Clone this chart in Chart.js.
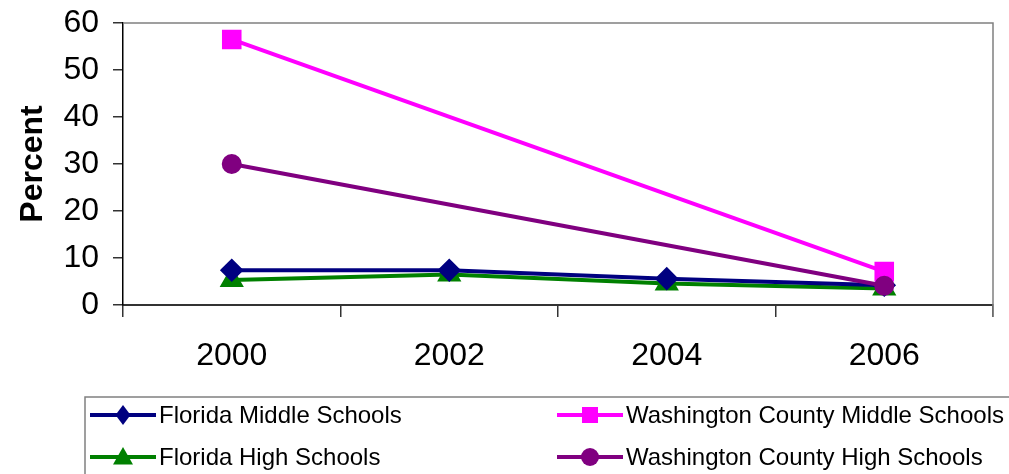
<!DOCTYPE html>
<html>
<head>
<meta charset="UTF-8" />
<script src="https://cdn.jsdelivr.net/npm/chart.js@4.4.1/dist/chart.umd.min.js"></script>
<style>
  html, body { margin: 0; padding: 0; background: #fff; }
</style>
</head>
<body>
<canvas id="myChart" width="1009" height="474"></canvas>
<script>
// data
const years = ["2000", "2002", "2004", "2006"];
const flMiddle = [7.4, 7.4, 5.6, 4.2];
const wcMiddle = [56.5, null, null, 7.1];
const flHigh = [5.3, 6.5, 4.6, 3.5];
const wcHigh = [30, null, null, 4.1];
const yMin = 0, yMax = 60, yStep = 10;

const FONT = "'Liberation Sans', Arial, sans-serif";

// marker drawing for the hand-made legend
function marker(ctx, style, x, y, r, color) {
  ctx.fillStyle = color;
  ctx.beginPath();
  if (style === "rectRot") {
    ctx.moveTo(x, y - r); ctx.lineTo(x + r * 0.75, y); ctx.lineTo(x, y + r); ctx.lineTo(x - r * 0.75, y);
  } else if (style === "rect") {
    ctx.rect(x - r * 0.8, y - r * 0.8, r * 1.6, r * 1.6);
  } else if (style === "triangle") {
    ctx.moveTo(x, y - r); ctx.lineTo(x + r, y + r * 0.75); ctx.lineTo(x - r, y + r * 0.75);
  } else {
    ctx.arc(x, y, r * 0.9, 0, Math.PI * 2);
  }
  ctx.closePath();
  ctx.fill();
}

const frame = {
  id: "frame",
  beforeDatasetsDraw(chart) {
    const a = chart.chartArea, ctx = chart.ctx;
    ctx.save();
    ctx.strokeStyle = "#808080";
    ctx.lineWidth = 1.5;
    ctx.beginPath();
    ctx.moveTo(a.left, a.top); ctx.lineTo(a.right, a.top); ctx.lineTo(a.right, a.bottom + 12);
    ctx.stroke();
    ctx.restore();
  }
};

const legendBox = {
  id: "legendBox",
  afterDraw(chart) {
    const ctx = chart.ctx;
    ctx.save();
    ctx.strokeStyle = "#808080";
    ctx.lineWidth = 1.5;
    ctx.strokeRect(85, 397, 1000, 100);
    const cols = [90, 557], rows = [415, 457];
    ctx.font = "24px " + FONT;
    ctx.textBaseline = "middle";
    chart.data.datasets.forEach(function(ds, i) {
      const x = cols[i % 2], y = rows[Math.floor(i / 2)];
      ctx.strokeStyle = ds.borderColor;
      ctx.lineWidth = 4;
      ctx.beginPath(); ctx.moveTo(x, y); ctx.lineTo(x + 66, y); ctx.stroke();
      marker(ctx, ds.pointStyle, x + 33, y, 10, ds.borderColor);
      ctx.fillStyle = "#000";
      ctx.fillText(ds.label, x + 69, y + 1);
    });
    ctx.restore();
  }
};

const data = {
  labels: years,
  datasets: [
    { label: "Florida Middle Schools", data: flMiddle, borderColor: "#000080", backgroundColor: "#000080",
      pointStyle: "rectRot", pointRadius: 9, borderWidth: 4, order: 2 },
    { label: "Washington County Middle Schools", data: wcMiddle, borderColor: "#FF00FF", backgroundColor: "#FF00FF",
      pointStyle: "rect", pointRadius: 11, borderWidth: 4, spanGaps: true, order: 1 },
    { label: "Florida High Schools", data: flHigh, borderColor: "#008000", backgroundColor: "#008000",
      pointStyle: "triangle", pointRadius: 10, borderWidth: 4, order: 3 },
    { label: "Washington County High Schools", data: wcHigh, borderColor: "#800080", backgroundColor: "#800080",
      pointStyle: "circle", pointRadius: 8, borderWidth: 4, spanGaps: true, order: 0 }
  ]
};

const config = {
  type: "line",
  data: data,
  plugins: [frame, legendBox],
  options: {
    responsive: false,
    animation: false,
    devicePixelRatio: 1,
    layout: { padding: { top: 23, right: 16, left: 14, bottom: 0 } },
    elements: { line: { tension: 0 }, point: { borderWidth: 0 } },
    plugins: {
      legend: { display: false },
      tooltip: { enabled: false }
    },
    scales: {
      x: {
        offset: true,
        afterFit: function(s) { s.height = 169; s.paddingLeft = 0; s.paddingRight = 0; },
        grid: { offset: true, drawOnChartArea: false, tickLength: 12, color: "#333", lineWidth: 1.5 },
        border: { color: "#333", width: 2 },
        ticks: { color: "#000", font: { family: FONT, size: 32 }, padding: 20 }
      },
      y: {
        min: yMin, max: yMax,
        afterFit: function(s) { s.width = 109; s.paddingTop = 0; s.paddingBottom = 0; },
        grid: { drawOnChartArea: false, tickLength: 10, color: "#333", lineWidth: 1.5 },
        border: { color: "#000", width: 1.5 },
        ticks: { stepSize: yStep, color: "#000", font: { family: FONT, size: 32 }, padding: 14 },
        title: { display: true, text: "Percent", color: "#000", font: { family: FONT, size: 32, weight: "bold" }, padding: { top: 0, bottom: 0 } }
      }
    }
  }
};

var myChart = new Chart(document.getElementById("myChart"), config);
</script>
</body>
</html>
